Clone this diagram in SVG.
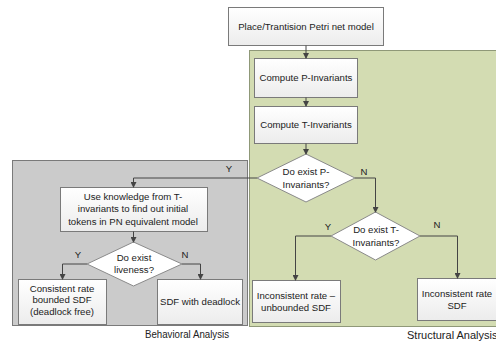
<svg xmlns="http://www.w3.org/2000/svg" width="496" height="341" viewBox="0 0 496 341">
<defs>
<linearGradient id="g" x1="0" y1="0" x2="0" y2="1"><stop offset="0" stop-color="#ffffff"/><stop offset="1" stop-color="#ececec"/></linearGradient>
<marker id="a" markerWidth="6" markerHeight="6" refX="5" refY="3" orient="auto" markerUnits="userSpaceOnUse"><path d="M0,0 L6,3 L0,6 z" fill="#444"/></marker>
</defs>
<style>
text{font-family:"Liberation Sans",Arial,sans-serif;font-size:9.6px;fill:#222;text-anchor:middle}
.box{fill:url(#g);stroke:#7a7a7a;stroke-width:1}
.dia{fill:#ffffff;stroke:#8a8a8a;stroke-width:1}
.c{fill:none;stroke:#444;stroke-width:1;marker-end:url(#a)}
.lbl{font-size:9.6px}
.cap{font-size:11px;text-anchor:start}
</style>
<rect id="structural" x="249.5" y="50.5" width="250" height="276" fill="#d3dcb2" stroke="#8f9878"/>
<rect id="behavioral" x="12.5" y="160.5" width="235" height="165" fill="#cbcbcb" stroke="#7a7a7a"/>
<g id="n-model"><rect class="box" x="228.5" y="7.5" width="155" height="38"/><text x="306" y="30">Place/Trantision Petri net model</text></g>
<g id="n-pinv"><rect class="box" x="254.5" y="58.5" width="103" height="39"/><text x="306" y="81">Compute P-Invariants</text></g>
<g id="n-tinv"><rect class="box" x="254.5" y="106.5" width="103" height="37"/><text x="306" y="128">Compute T-Invariants</text></g>
<g id="n-dp"><polygon class="dia" points="306,154 355,178 306,202 257,178"/><text x="306" y="175">Do exist P-</text><text x="306" y="188">Invariants?</text></g>
<g id="n-dt"><polygon class="dia" points="375.5,212 420,236 375.5,260 331,236"/><text x="376" y="233">Do exist T-</text><text x="376" y="246">Invariants?</text></g>
<g id="n-unb"><rect class="box" x="252.5" y="280.5" width="88" height="42"/><text x="296" y="299">Inconsistent rate –</text><text x="296" y="311">unbounded SDF</text></g>
<g id="n-inc"><rect class="box" x="417.5" y="278.5" width="90" height="42"/><text x="457" y="297">Inconsistent rate</text><text x="457" y="309">SDF</text></g>
<g id="n-use"><rect class="box" x="60.5" y="187.5" width="147" height="44"/><text x="133" y="200">Use knowledge from T-</text><text x="133" y="212">invariants to find out initial</text><text x="133" y="225">tokens in PN equivalent model</text></g>
<g id="n-live"><polygon class="dia" points="133.5,242 182,264 133.5,286 87,264"/><text x="134" y="261">Do exist</text><text x="134" y="273">liveness?</text></g>
<g id="n-cons"><rect class="box" x="18.5" y="279.5" width="88" height="45"/><text x="62" y="292">Consistent rate</text><text x="62" y="303">bounded SDF</text><text x="62" y="315">(deadlock free)</text></g>
<g id="n-dead"><rect class="box" x="157.5" y="279.5" width="85" height="45"/><text x="200" y="305">SDF with deadlock</text></g>
<g id="connectors">
<line class="c" x1="306" y1="45.5" x2="306" y2="58"/>
<line class="c" x1="306" y1="97.5" x2="306" y2="106"/>
<line class="c" x1="306" y1="143.5" x2="306" y2="154"/>
<polyline class="c" points="355,178 375.5,178 375.5,212"/>
<polyline class="c" points="331,236 295.5,236 295.5,280"/>
<polyline class="c" points="420,236 457.5,236 457.5,278"/>
<polyline class="c" points="257,178 133.5,178 133.5,187"/>
<line class="c" x1="133.5" y1="231.5" x2="133.5" y2="242"/>
<polyline class="c" points="87,264 62.5,264 62.5,279"/>
<polyline class="c" points="182,264 200.5,264 200.5,279"/>
</g>
<g id="labels">
<text class="lbl" x="364" y="175">N</text>
<text class="lbl" x="328" y="230">Y</text>
<text class="lbl" x="437" y="228">N</text>
<text class="lbl" x="229" y="172">Y</text>
<text class="lbl" x="78" y="258">Y</text>
<text class="lbl" x="185" y="258">N</text>
</g>
<text class="cap" x="145" y="338" textLength="84" lengthAdjust="spacingAndGlyphs">Behavioral Analysis</text>
<text class="cap" x="407" y="339">Structural Analysis</text>
</svg>
